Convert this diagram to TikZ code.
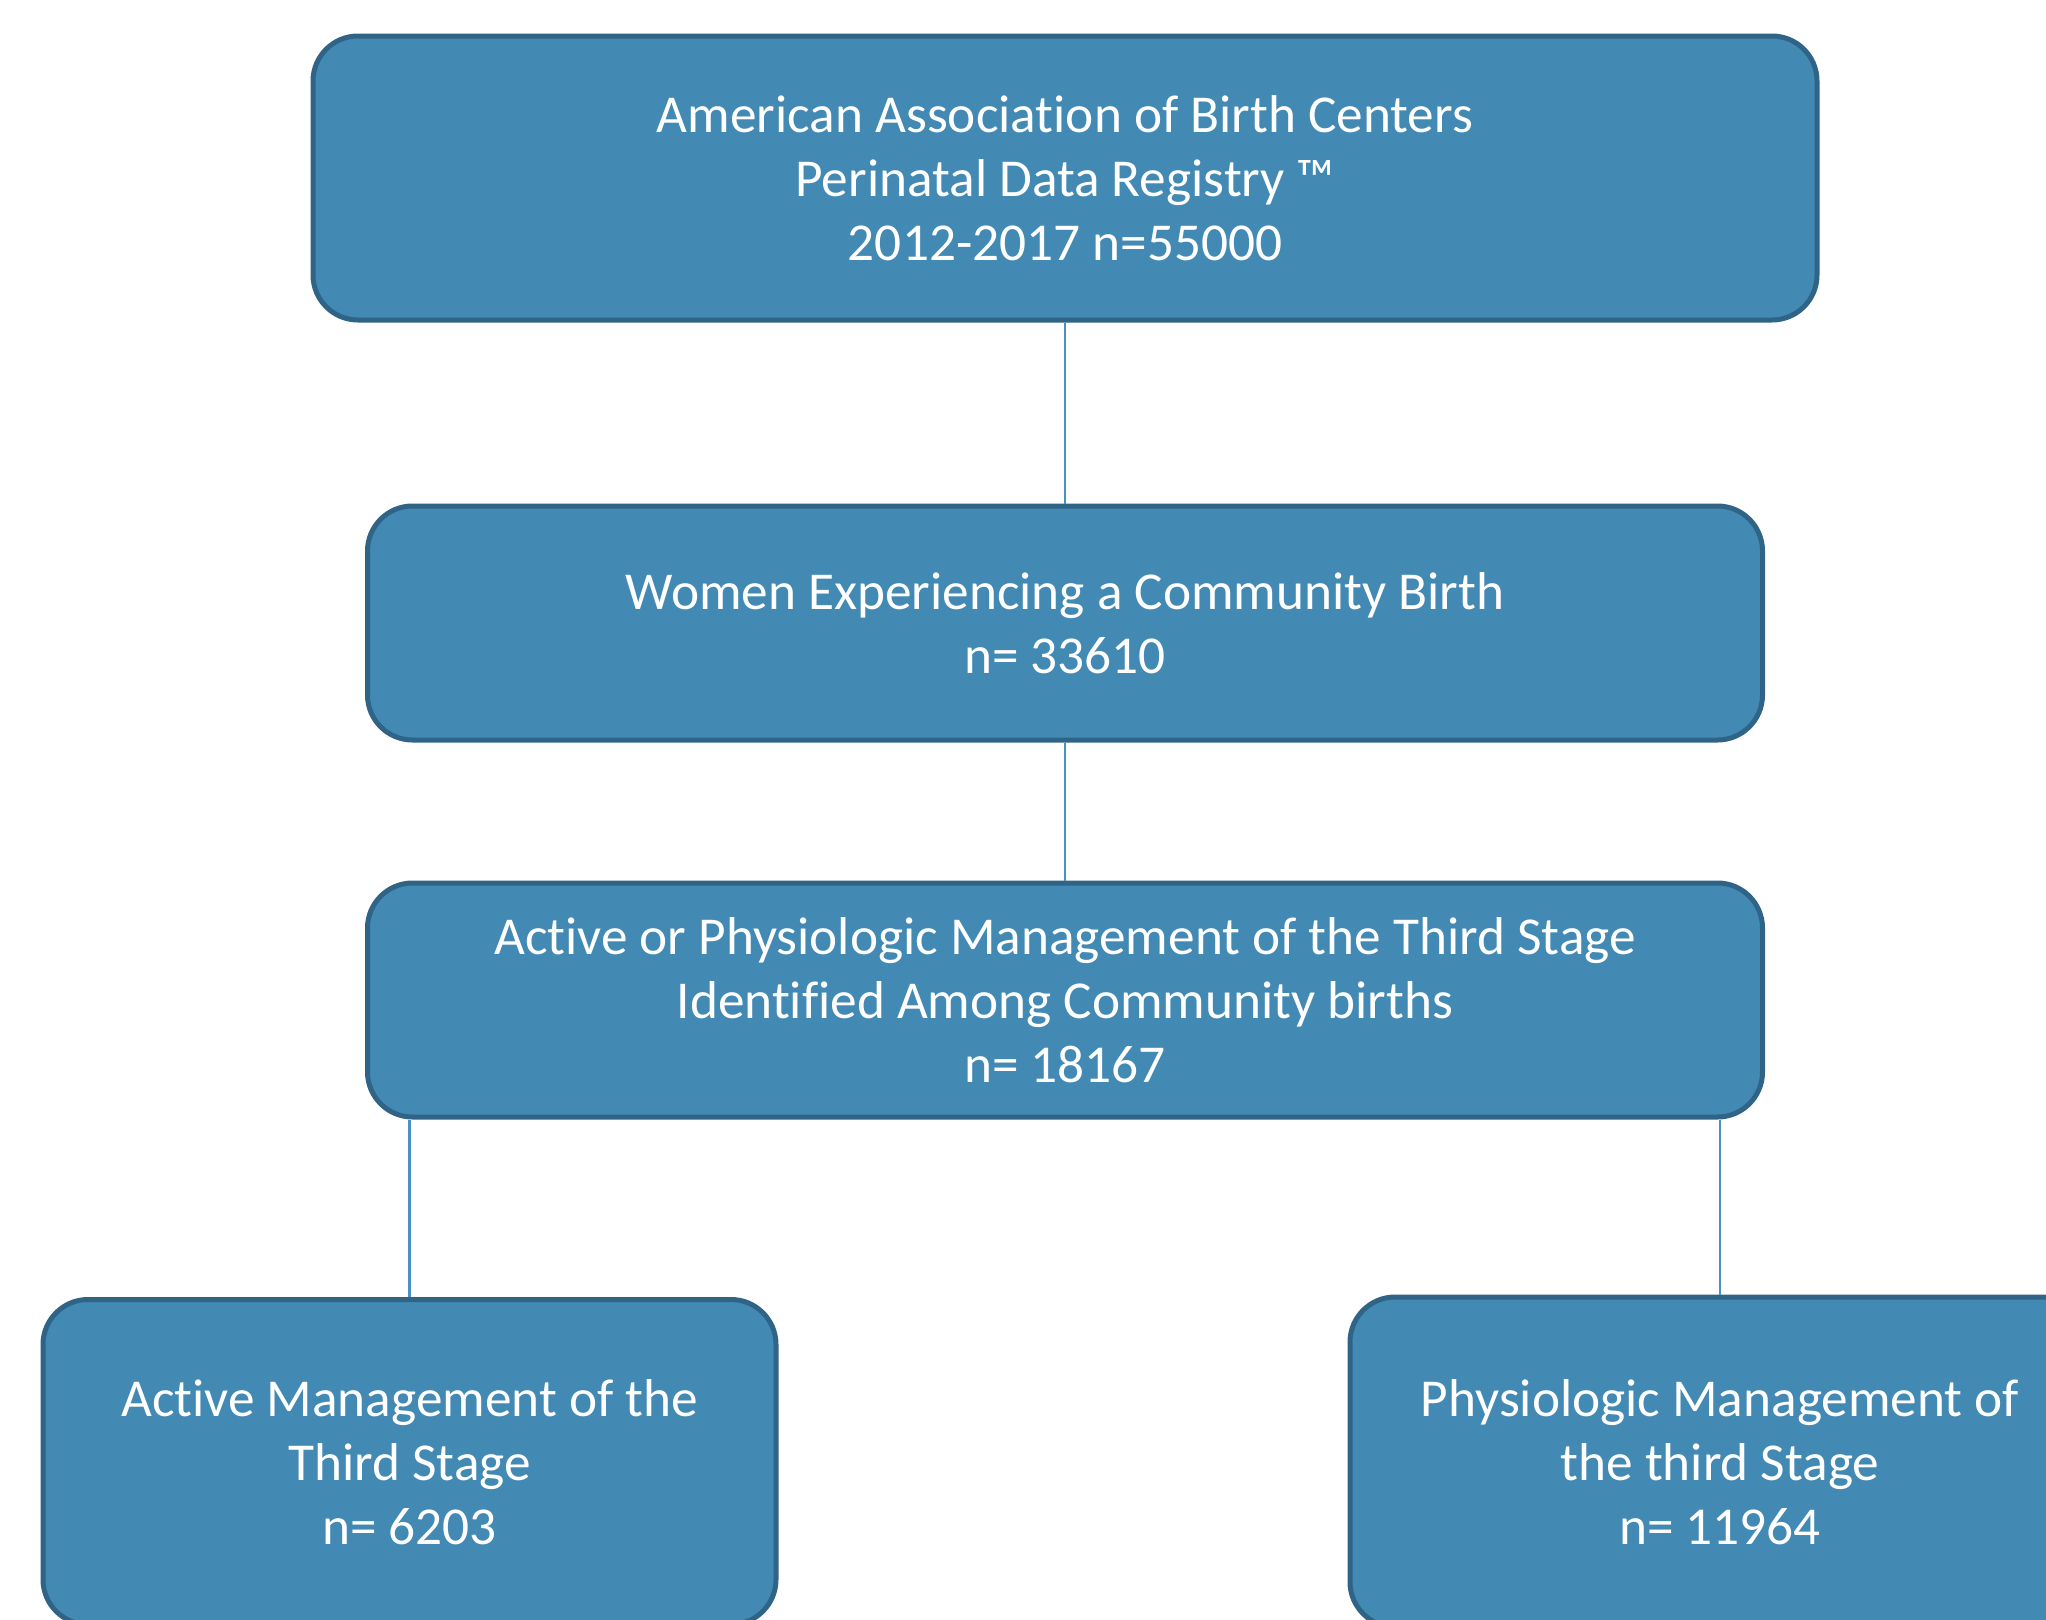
\documentclass[tikz,border=0pt]{standalone}
\usepackage{fontspec}
\setmainfont[Ligatures={NoCommon}]{Carlito}
\definecolor{boxfill}{RGB}{66,137,180}
\definecolor{boxline}{RGB}{48,100,135}
\definecolor{conn}{RGB}{74,145,195}
\begin{document}
\begin{tikzpicture}[x=1pt,y=-1pt,
  flowbox/.style={draw=boxline, fill=boxfill, line width=5pt, rounded corners=45pt,
    text=white, align=center, inner sep=0pt,
    font=\fontsize{53.3}{64}\selectfont},
  link/.style={draw=conn, line width=2.5pt}]
\useasboundingbox (0,0) rectangle (2046,1620);
\clip (0,0) rectangle (2046,1620);
\fill[white] (0,0) rectangle (2046,1620);
\node[flowbox, minimum width=1504pt, minimum height=284pt] (b1) at (1065,178)
  {American Association of Birth Centers\\Perinatal Data Registry ™\\2012-2017 n=55000};
\node[flowbox, minimum width=1395pt, minimum height=234pt] (b2) at (1065,623)
  {Women Experiencing a Community Birth\\n= 33610};
\node[flowbox, minimum width=1395pt, minimum height=234pt] (b3) at (1065,1000)
  {Active or Physiologic Management of the Third Stage\\Identified Among Community births\\n= 18167};
\node[flowbox, minimum width=733pt, minimum height=325pt] (b4) at (409.5,1462)
  {Active Management of the\\Third Stage\\n= 6203};
\node[flowbox, minimum width=740pt, minimum height=330pt] (b5) at (1720,1462)
  {Physiologic Management of\\the third Stage\\n= 11964};
\draw[link] (b1.south) -- (b2.north);
\draw[link] (b2.south) -- (b3.north);
\draw[link] (b4.north) -- (b4.north |- b3.south);
\draw[link] (b5.north) -- (b5.north |- b3.south);
\end{tikzpicture}
\end{document}
